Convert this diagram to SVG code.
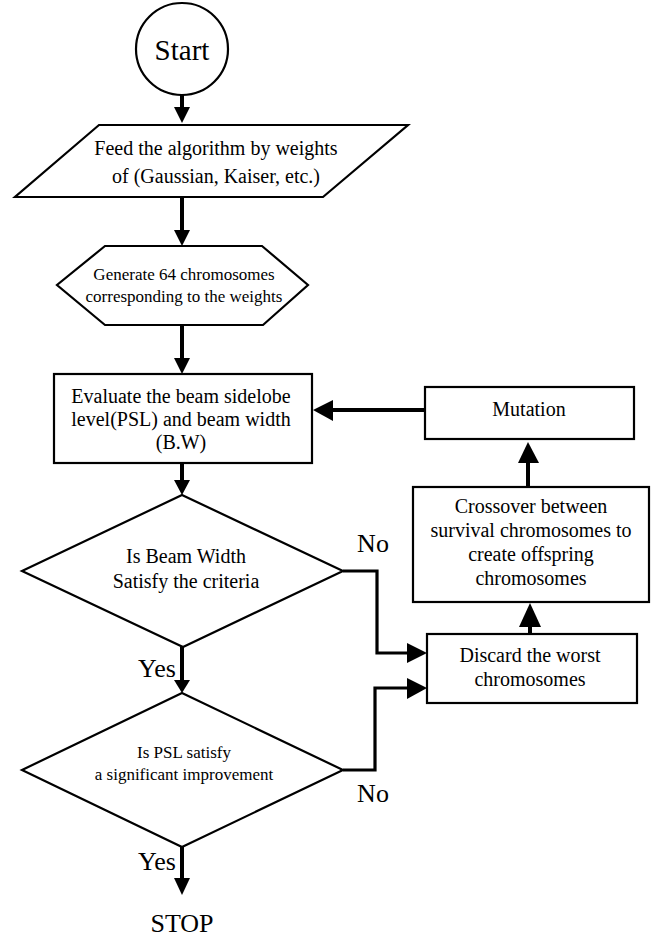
<svg xmlns="http://www.w3.org/2000/svg" width="661" height="937" viewBox="0 0 661 937">
<style>
.shape{fill:#fff;stroke:#000;stroke-width:2.2}
.t{font-family:'Liberation Serif','Times New Roman','DejaVu Serif',serif;fill:#000;text-anchor:middle}
.m{font-size:20px}
.s{font-size:17px}
.l{font-size:26px}
.c{fill:none;stroke:#000;stroke-width:4}
.c3{fill:none;stroke:#000;stroke-width:3.2}
.ah{fill:#000;stroke:none}
</style>
<rect width="661" height="937" fill="#fff"/>
<g id="connectors">
  <line class="c" x1="182" y1="95" x2="182" y2="110"/>
  <polygon class="ah" points="174,107 190,107 182,123"/>
  <line class="c" x1="182" y1="197" x2="182" y2="232"/>
  <polygon class="ah" points="174,230 190,230 182,246"/>
  <line class="c" x1="182" y1="325" x2="182" y2="360"/>
  <polygon class="ah" points="174,358 190,358 182,374"/>
  <line class="c" x1="182" y1="463" x2="182" y2="482"/>
  <polygon class="ah" points="174,480 190,480 182,495"/>
  <line class="c" x1="425" y1="410" x2="330" y2="410"/>
  <polygon class="ah" points="333,400 333,421 313,410"/>
  <line class="c" x1="528" y1="487" x2="528" y2="460"/>
  <polygon class="ah" points="518,463 539,463 528,442"/>
  <line class="c" x1="530" y1="634" x2="530" y2="624"/>
  <polygon class="ah" points="519,627 541,627 530,603"/>
  <polyline class="c3" points="343,571 377,571 377,653 410,653"/>
  <polygon class="ah" points="407,643 407,663 427,653"/>
  <line class="c" x1="182" y1="647" x2="182" y2="682"/>
  <polygon class="ah" points="174,680 190,680 182,693"/>
  <polyline class="c3" points="343,770 375,770 375,688 410,688"/>
  <polygon class="ah" points="407,678 407,699 427,688"/>
  <line class="c" x1="182" y1="847" x2="182" y2="880"/>
  <polygon class="ah" points="174,878 190,878 182,895"/>
</g>
<g id="start">
  <circle class="shape" cx="182" cy="49" r="46"/>
  <text class="t" x="182" y="60" font-size="29">Start</text>
</g>
<g id="feed">
  <polygon class="shape" points="99,125 408,125 323,197 15,197"/>
  <text class="t m" x="216" y="155">Feed the algorithm by weights</text>
  <text class="t m" x="216" y="183">of (Gaussian, Kaiser, etc.)</text>
</g>
<g id="generate">
  <polygon class="shape" points="105,246 262,246 308,285 263,325 105,325 57,285"/>
  <text class="t s" x="184" y="280">Generate 64 chromosomes</text>
  <text class="t s" x="184" y="302">corresponding to the weights</text>
</g>
<g id="evaluate">
  <rect class="shape" x="54" y="374" width="258" height="89"/>
  <text class="t m" x="181" y="403">Evaluate the beam sidelobe</text>
  <text class="t m" x="181" y="426">level(PSL) and beam width</text>
  <text class="t m" x="181" y="449">(B.W)</text>
</g>
<g id="mutation">
  <rect class="shape" x="425" y="387" width="209" height="52"/>
  <text class="t m" x="529" y="416">Mutation</text>
</g>
<g id="crossover">
  <rect class="shape" x="413" y="487" width="236" height="115"/>
  <text class="t m" x="531" y="513">Crossover between</text>
  <text class="t m" x="531" y="537">survival chromosomes to</text>
  <text class="t m" x="531" y="561">create offspring</text>
  <text class="t m" x="531" y="585">chromosomes</text>
</g>
<g id="discard">
  <rect class="shape" x="427" y="634" width="210" height="69"/>
  <text class="t m" x="530" y="662">Discard the worst</text>
  <text class="t m" x="530" y="686">chromosomes</text>
</g>
<g id="beamwidth">
  <polygon class="shape" points="182,495 343,571 183,647 22,571"/>
  <text class="t m" x="186" y="563">Is Beam Width</text>
  <text class="t m" x="186" y="588">Satisfy the criteria</text>
</g>
<g id="psl">
  <polygon class="shape" points="182,693 343,770 182,847 22,770"/>
  <text class="t s" x="184" y="758">Is PSL satisfy</text>
  <text class="t s" x="184" y="780">a significant improvement</text>
</g>
<g id="labels">
  <text class="t l" x="373" y="552">No</text>
  <text class="t l" x="157" y="677">Yes</text>
  <text class="t l" x="373" y="802">No</text>
  <text class="t l" x="157" y="870">Yes</text>
</g>
<g id="stop">
  <text class="t" x="182" y="932" font-size="26">STOP</text>
</g>
</svg>
